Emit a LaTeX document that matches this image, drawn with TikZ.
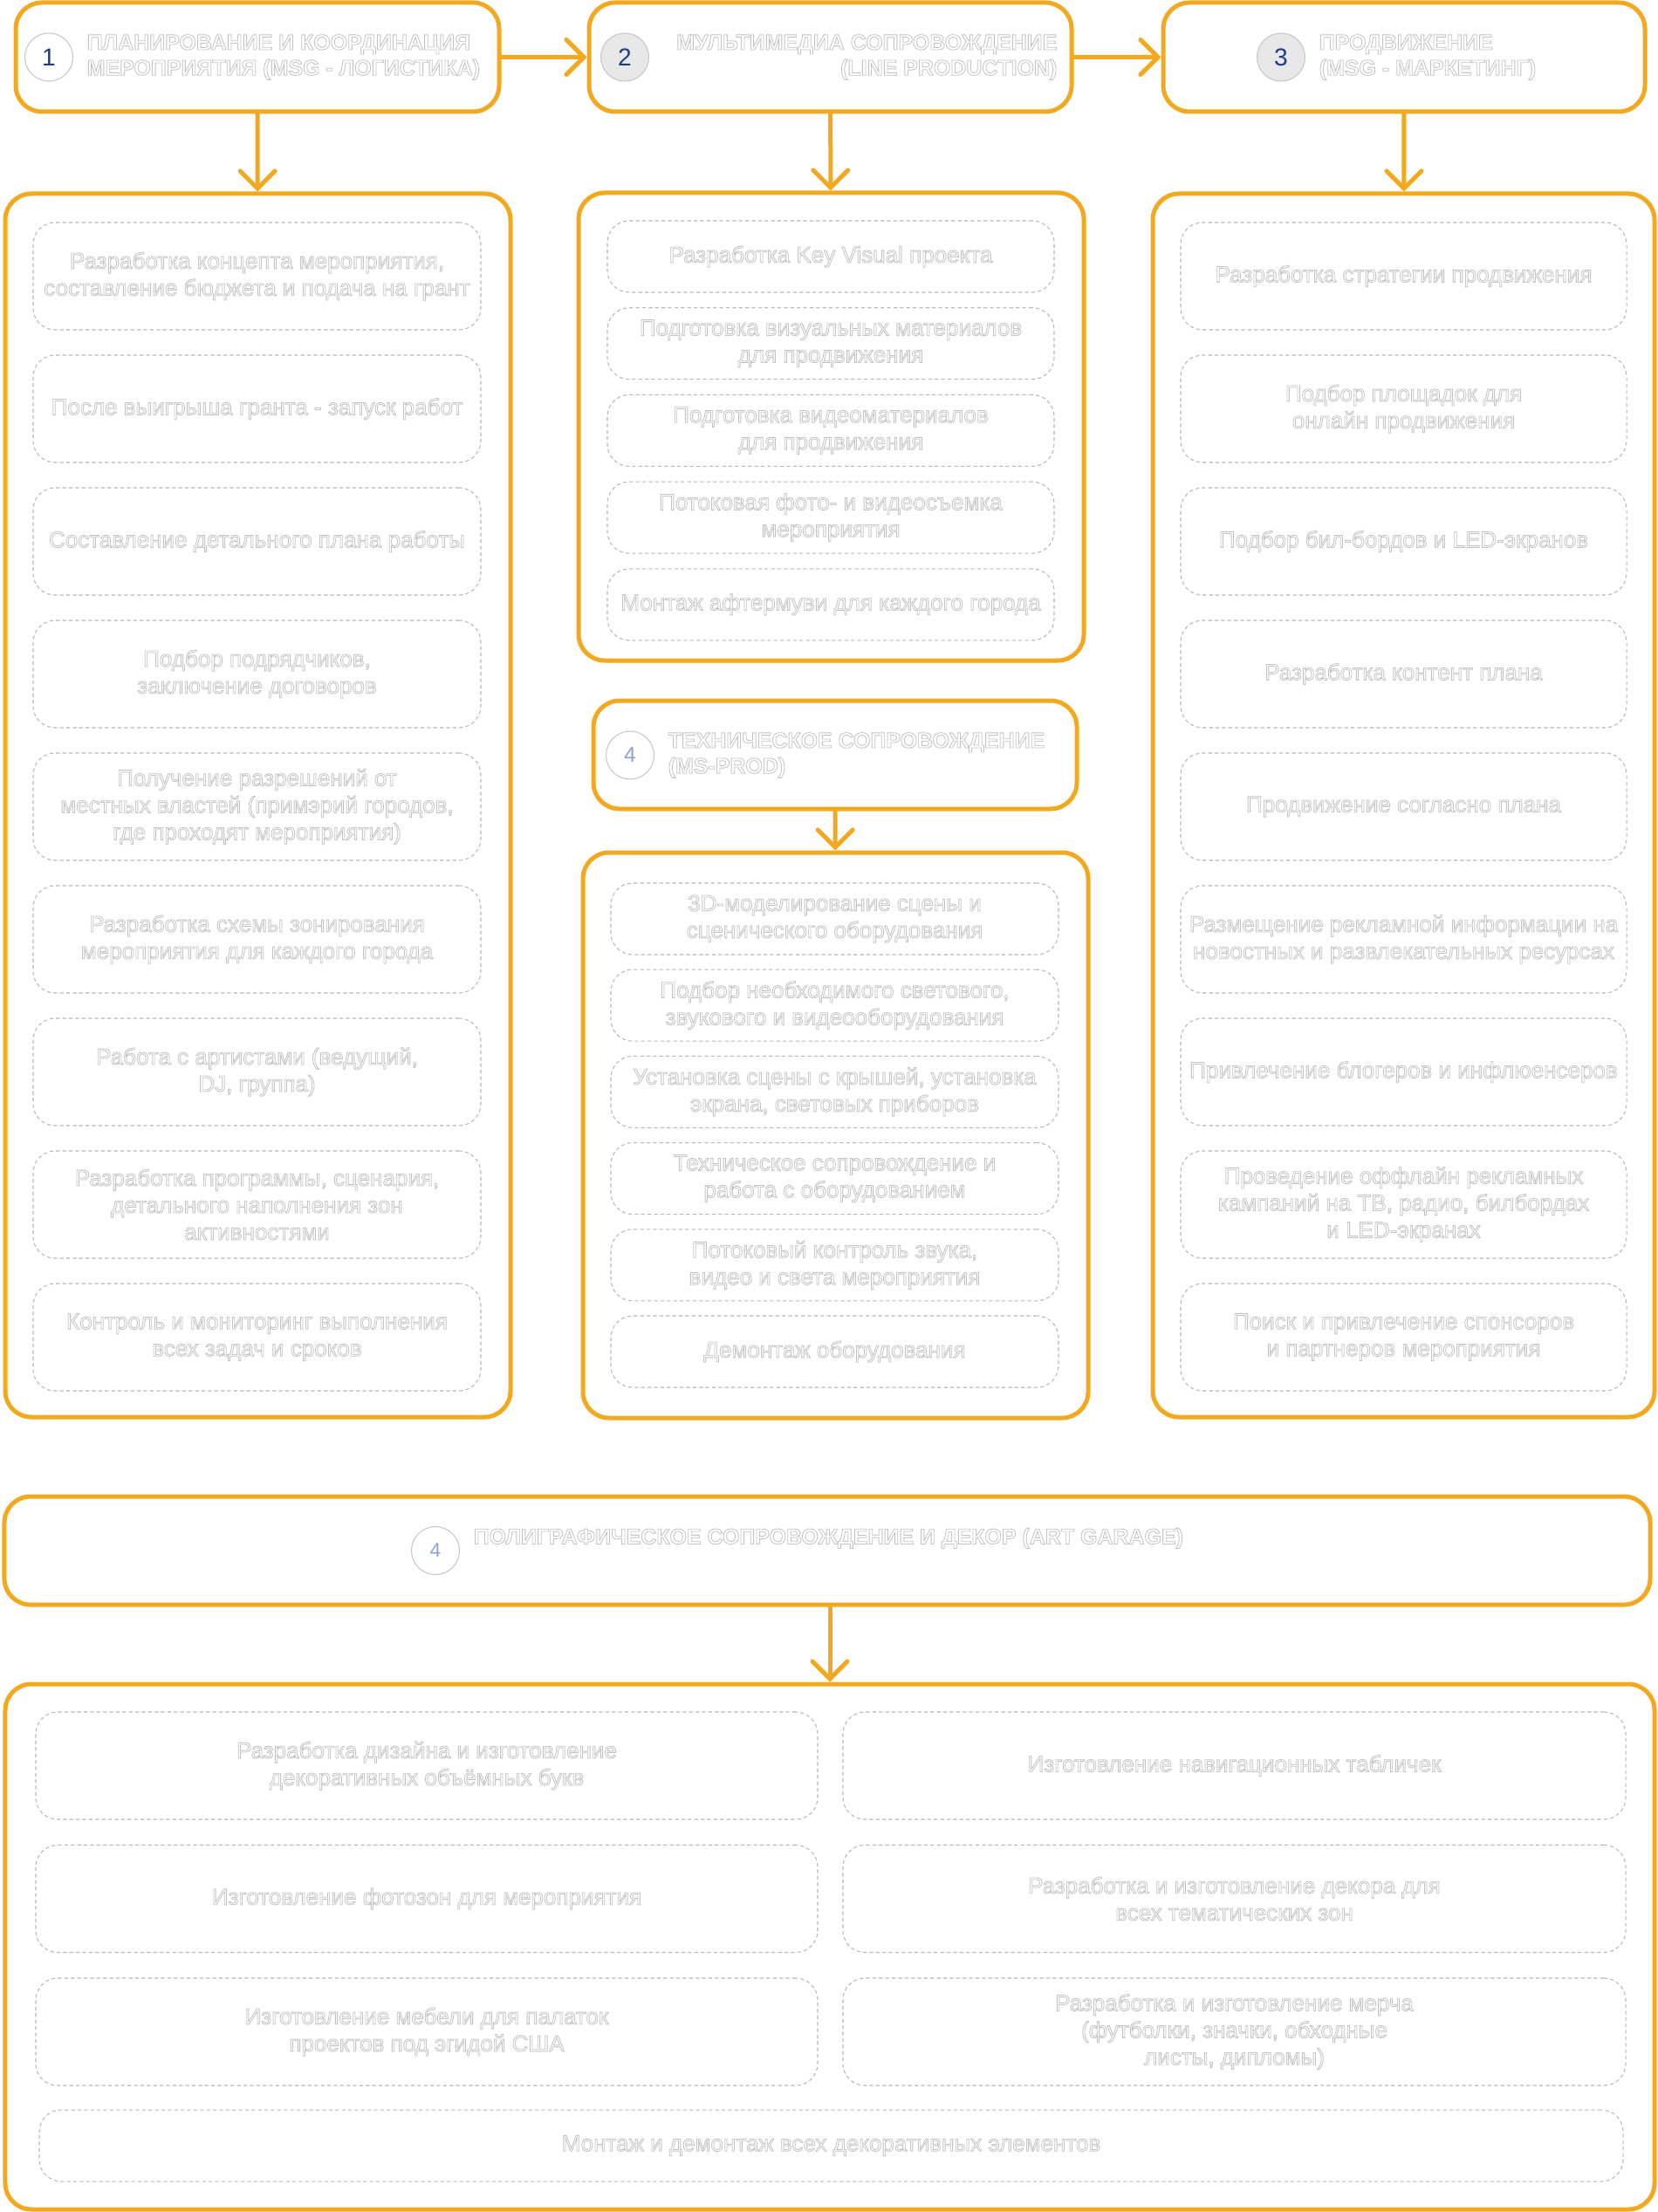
\documentclass[tikz,border=0pt]{standalone}
\usepackage{fontspec}
\setmainfont{Liberation Sans}
\usepackage{xcolor}
\usepackage{tikz}
\usetikzlibrary{arrows.meta,positioning,shapes.geometric}
\definecolor{flow}{RGB}{243,169,31}
\definecolor{faint}{RGB}{196,196,196}
\definecolor{numblue}{RGB}{30,60,140}
\definecolor{numpale}{RGB}{140,162,212}
\definecolor{disc}{RGB}{232,232,232}
\newcommand{\tasksize}{\fontsize{7.4}{8.8}\selectfont}
% hollow letters: stroke only, as in the picture
\newcommand{\hollow}{\special{pdf:literal direct 0.24 w 1 Tr}}
\newcommand{\solid}{\special{pdf:literal direct 0 Tr}}

\begin{document}
\begin{tikzpicture}[x=1cm,y=1cm,
  frame/.style={draw=flow,line width=0.05cm,rounded corners=0.3cm,fill=white},
  task/.style={draw=black!28,line width=0.3pt,dash pattern=on 1.2pt off 0.9pt,rounded corners=0.25cm,
    align=center,text=faint,font=\tasksize\hollow,inner sep=0pt},
  badge/.style={circle,draw=black!22,line width=0.3pt,minimum size=0.55cm,inner sep=0pt,font=\fontsize{8}{9}\selectfont\solid},
  title/.style={text=faint,font=\fontsize{7.1}{8.3}\selectfont\bfseries\hollow,inner sep=0pt},
  arr/.style={draw=flow,line width=0.05cm,line cap=round,-{Straight Barb[length=0.2cm,width=0.4cm,line cap=round]}}]
\useasboundingbox (0,0) rectangle (19,-25.35);
% top row of headers
\node[frame,minimum width=5.54cm,minimum height=1.25cm] (h1) at (2.95,-0.655){};
\node[frame,minimum width=5.53cm,minimum height=1.25cm] (h2) at (9.515,-0.655){};
\node[frame,minimum width=5.52cm,minimum height=1.25cm] (h3) at (16.09,-0.655){};
\node[badge,fill=white,text=numblue] (n1) at (0.56,-0.655){1};
\node[title,align=left,right=0.15cm of n1] (t1){ПЛАНИРОВАНИЕ И КООРДИНАЦИЯ\\МЕРОПРИЯТИЯ (MSG - ЛОГИСТИКА)};
\node[badge,fill=disc,text=numblue] (n2) at (7.16,-0.655){2};
\node[title,align=right,anchor=east] (t2) at (12.12,-0.655){МУЛЬТИМЕДИА СОПРОВОЖДЕНИЕ\\(LINE PRODUCTION)};
\node[badge,fill=disc,text=numblue] (n3) at (14.68,-0.655){3};
\node[title,align=left,right=0.15cm of n3] (t3){ПРОДВИЖЕНИЕ\\(MSG - МАРКЕТИНГ)};
\draw[arr] (h1) -- (h2);
\draw[arr] (h2) -- (h3);
% columns
\node[frame,minimum width=5.79cm,minimum height=14.02cm] (c1) at (2.955,-9.23){};
\node[frame,minimum width=5.79cm,minimum height=5.36cm] (c2) at (9.525,-4.89){};
\node[frame,minimum width=5.75cm,minimum height=14.02cm] (c3) at (16.085,-9.23){};
\draw[arr] (h1) -- (c1);
\draw[arr] (h2) -- (c2);
\draw[arr] (h3) -- (c3);
\foreach \t [count=\k from 0] in {{Разработка концепта мероприятия,\\составление бюджета и подача на грант},
   {После выигрыша гранта - запуск работ},{Составление детального плана работы},
   {Подбор подрядчиков,\\заключение договоров},
   {Получение разрешений от\\местных властей (примэрий городов,\\где проходят мероприятия)},
   {Разработка схемы зонирования\\мероприятия для каждого города},{Работа с артистами (ведущий,\\DJ, группа)},
   {Разработка программы, сценария,\\детального наполнения зон\\активностями},
   {Контроль и мониторинг выполнения\\всех задач и сроков}}
   \node[task,minimum width=5.13cm,minimum height=1.23cm] (plan\k) at (2.945,{-3.165-1.52*\k}){\t};
\foreach \t [count=\k from 0] in {{Разработка Key Visual проекта},
   {Подготовка визуальных материалов\\для продвижения},{Подготовка видеоматериалов\\для продвижения},
   {Потоковая фото- и видеосъемка\\мероприятия},{Монтаж афтермуви для каждого города}}
   \node[task,minimum width=5.12cm,minimum height=0.82cm] (media\k) at (9.52,{-2.94-0.997*\k}){\t};
\foreach \t [count=\k from 0] in {{Разработка стратегии продвижения},
   {Подбор площадок для\\онлайн продвижения},{Подбор бил-бордов и LED-экранов},
   {Разработка контент плана},{Продвижение согласно плана},
   {Размещение рекламной информации на\\новостных и развлекательных ресурсах},
   {Привлечение блогеров и инфлюенсеров},
   {Проведение оффлайн рекламных\\кампаний на ТВ, радио, билбордах\\и LED-экранах},
   {Поиск и привлечение спонсоров\\и партнеров мероприятия}}
   \node[task,minimum width=5.11cm,minimum height=1.23cm] (promo\k) at (16.085,{-3.165-1.52*\k}){\t};
% technical block
\node[frame,minimum width=5.54cm,minimum height=1.24cm] (h4) at (9.57,-8.65){};
\node[badge,fill=white,text=numpale,font=\fontsize{7}{8}\selectfont\solid] (n4) at (7.22,-8.655){4};
\node[title,align=left,right=0.15cm of n4] (t4){ТЕХНИЧЕСКОЕ СОПРОВОЖДЕНИЕ\\(MS-PROD)};
\node[frame,minimum width=5.79cm,minimum height=6.48cm] (c4) at (9.575,-13.01){};
\draw[arr] (h4) -- (c4);
\foreach \t [count=\k from 0] in {{3D-моделирование сцены и\\сценического оборудования},
   {Подбор необходимого светового,\\звукового и видеооборудования},
   {Установка сцены с крышей, установка\\экрана, световых приборов},
   {Техническое сопровождение и\\работа с оборудованием},
   {Потоковый контроль звука,\\видео и света мероприятия},{Демонтаж оборудования}}
   \node[task,minimum width=5.13cm,minimum height=0.82cm] (tech\k) at (9.565,{-10.53-0.992*\k}){\t};
% print and decor block
\node[frame,minimum width=18.86cm,minimum height=1.24cm] (h5) at (9.48,-17.77){};
\node[badge,fill=white,text=numpale,font=\fontsize{6.5}{7.5}\selectfont\solid] (n5) at (4.99,-17.77){4};
\node[title,anchor=west] (t5) at (5.42,-17.63){ПОЛИГРАФИЧЕСКОЕ СОПРОВОЖДЕНИЕ И ДЕКОР (ART GARAGE)};
\node[frame,minimum width=18.9cm,minimum height=6.02cm] (c5) at (9.51,-22.31){};
\draw[arr] (h5.south -| c5.north) -- (c5.north);
\foreach \t [count=\k from 0] in {{Разработка дизайна и изготовление\\декоративных объёмных букв},
   {Изготовление фотозон для мероприятия},{Изготовление мебели для палаток\\проектов под эгидой США}}
   \node[task,minimum width=8.96cm,minimum height=1.23cm] (decl\k) at (4.89,{-20.235-1.525*\k}){\t};
\foreach \t [count=\k from 0] in {{Изготовление навигационных табличек},
   {Разработка и изготовление декора для\\всех тематических зон},
   {Разработка и изготовление мерча\\(футболки, значки, обходные\\листы, дипломы)}}
   \node[task,minimum width=8.97cm,minimum height=1.23cm] (decr\k) at (14.145,{-20.235-1.525*\k}){\t};
\node[task,minimum width=18.15cm,minimum height=0.82cm] (mount) at (9.525,-24.59){Монтаж и демонтаж всех декоративных элементов};
\end{tikzpicture}
\end{document}
